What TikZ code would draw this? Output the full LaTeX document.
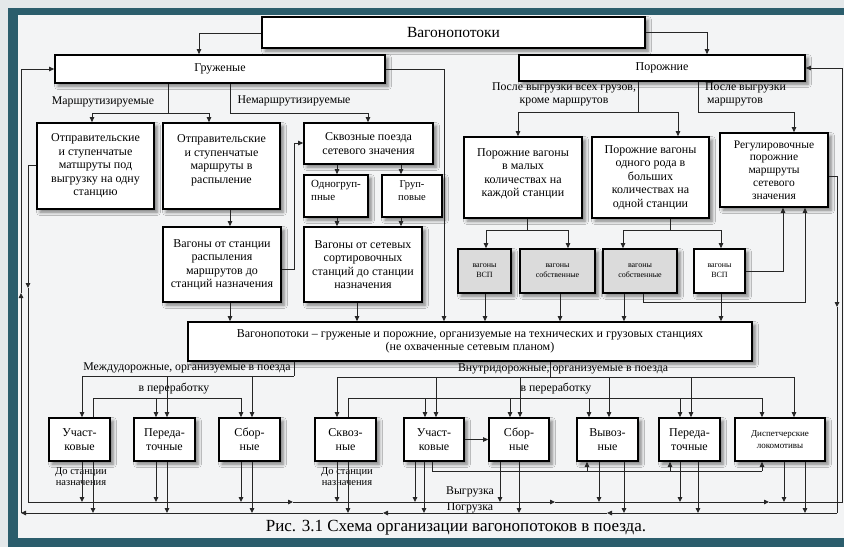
\documentclass[tikz,border=0pt]{standalone}
\usepackage{fontspec}
\setmainfont{Liberation Serif}
\usetikzlibrary{arrows.meta,shadows.blur}
\definecolor{tealb}{HTML}{2B5D6C}
\definecolor{outerbg}{HTML}{E4E8EA}
\definecolor{innerbg}{HTML}{F3F4F5}
\tikzset{
 box/.style={draw=black, line width=1.7pt, fill=white, inner sep=0pt, align=center,
   font=\fontsize{12}{13.5}\selectfont,
   blur shadow={shadow xshift=3pt, shadow yshift=-3pt, shadow blur radius=3.5pt, shadow opacity=50}},
 gbox/.style={box, fill=gray!28, font=\fontsize{8}{10}\selectfont},
 conn/.style={line width=0.85pt, draw=black!85},
 arr/.style={conn, -{Triangle[length=5pt,width=4.5pt]}},
 lbl/.style={inner sep=0pt, font=\fontsize{11.8}{13}\selectfont},
 small/.style={inner sep=0pt, align=center, font=\fontsize{10.5}{11}\selectfont},
}
\begin{document}
\begin{tikzpicture}[x=1pt,y=-1pt]
\useasboundingbox (0,0) rectangle (844,547);
% background
\fill[outerbg] (0,0) rectangle (844,547);
\fill[innerbg] (18,15) rectangle (844,538);
\fill[tealb] (8,8) rectangle (844,15);
\fill[tealb] (8,8) rectangle (18,547);
\fill[tealb] (8,538) rectangle (844,547);

% boxes
\node[box, minimum width=383pt, minimum height=31pt, font=\fontsize{15.5}{17}\selectfont] (top) at (453.5,32.5) {Вагонопотоки};
\node[box, minimum width=330pt, minimum height=28pt] (gruz) at (220,69) {Груженые};
\node[box, minimum width=286pt, minimum height=26pt] (poro) at (662,68) {Порожние};

\node[box, minimum width=117pt, minimum height=86pt] (A) at (95.5,166) {Отправительские\\и ступенчатые\\матшруты под\\выгрузку на одну\\станцию};
\node[box, minimum width=117pt, minimum height=86pt] (B) at (221.5,166) {Отправительские\\и ступенчатые\\маршруты в\\распыление\\\mbox{}};
\node[box, minimum width=129pt, minimum height=41pt] (C) at (368.5,143.5) {Сквозные поезда\\сетевого значения};
\node[box, minimum width=64pt, minimum height=42pt, align=left, font=\fontsize{11}{13}\selectfont] (Odn) at (336,196) {Одногруп-\\пные\\[-2pt]\mbox{}};
\node[box, minimum width=60pt, minimum height=42pt, font=\fontsize{10.5}{13}\selectfont] (Grp) at (412,196) {Груп-\\повые\\[-2pt]\mbox{}};
\node[box, minimum width=118pt, minimum height=75pt] (D) at (222,264.5) {Вагоны от станции\\распыления\\маршрутов до\\станций назначения};
\node[box, minimum width=118pt, minimum height=75pt] (E) at (363,264.5) {Вагоны от сетевых\\сортировочных\\станций до станции\\назначения};

\node[box, minimum width=118pt, minimum height=81pt] (F) at (523,177.5) {Порожние вагоны\\в малых\\количествах на\\каждой станции\\[-4pt]\mbox{}};
\node[box, minimum width=117pt, minimum height=81pt] (G) at (650.5,177.5) {Порожние вагоны\\одного рода в\\больших\\количествах на\\одной станции};
\node[box, minimum width=108pt, minimum height=74pt, font=\fontsize{11.5}{12.8}\selectfont] (H) at (774,170) {Регулировочные\\порожние\\маршруты\\сетевого\\значения};

\node[gbox, minimum width=53pt, minimum height=44pt] (I1) at (484.5,271) {вагоны\\ВСП};
\node[gbox, minimum width=75pt, minimum height=44pt] (I2) at (557.5,271) {вагоны\\собственные};
\node[gbox, minimum width=74pt, minimum height=44pt] (I3) at (640,271) {вагоны\\собственные};
\node[gbox, fill=white, minimum width=51pt, minimum height=44pt] (I4) at (719.5,271) {вагоны\\ВСП};

\node[box, minimum width=564pt, minimum height=39pt] (J) at (470,341.5) {Вагонопотоки – груженые и порожние, организуемые на технических и грузовых станциях\\(не охваченные сетевым планом)};

\node[box, minimum width=61pt, minimum height=43pt] (U1) at (79.5,439.5) {Участ-\\ковые};
\node[box, minimum width=61pt, minimum height=43pt] (P1) at (164.5,439.5) {Переда-\\точные};
\node[box, minimum width=61pt, minimum height=43pt] (S1) at (249.5,439.5) {Сбор-\\ные};
\node[box, minimum width=61pt, minimum height=43pt] (K) at (345.5,439.5) {Сквоз-\\ные};
\node[box, minimum width=60pt, minimum height=43pt] (U2) at (434,439.5) {Участ-\\ковые};
\node[box, minimum width=60pt, minimum height=43pt] (S2) at (519,439.5) {Сбор-\\ные};
\node[box, minimum width=61pt, minimum height=43pt] (V) at (607.5,439.5) {Вывоз-\\ные};
\node[box, minimum width=61pt, minimum height=43pt] (P2) at (689.5,439.5) {Переда-\\точные};
\node[box, minimum width=90pt, minimum height=43pt, font=\fontsize{9}{12}\selectfont] (Dsp) at (780,439.5) {Диспетчерские\\локомотивы};

% labels
\node[lbl] (lm) at (103,102) {Маршрутизируемые};
\node[lbl] (lnm) at (294,101) {Немаршрутизируемые};
\node[lbl] (lp1) at (564,88) {После выгрузки всех грузов,};
\node[lbl] (lp2) at (564,102) {кроме маршрутов};
\node[lbl, anchor=west] (lp3) at (705,88) {После выгрузки};
\node[lbl, anchor=west] (lp4) at (707,102) {маршрутов};
\node[lbl] (lmd) at (187,368) {Междудорожные, организуемые в поезда};
\node[lbl] (lvr1) at (174,389) {в переработку};
\node[lbl] (lvd) at (563,369) {Внутридорожные, организуемые в поезда};
\node[lbl] (lvr2) at (556,389) {в переработку};
\node[small] (ld1) at (81,477) {До станции\\назначения};
\node[small] (ld2) at (347,477) {До станции\\назначения};
\node[lbl] (lvy) at (470,492) {Выгрузка};
\node[lbl] (lpo) at (470,508) {Погрузка};
\node[inner sep=0pt, font=\fontsize{17}{20}\selectfont] (cap) at (456,528) {Рис. 3.1 Схема организации вагонопотоков в поезда.};

% top connectors
\draw[arr] (top.west |- 0,33) -- (199,33) -- (199,0 |- gruz.north);
\draw[arr] (top.east |- 0,32) -- (707,32) -- (707,0 |- poro.north);

% gruz children
\draw[conn] (168,0 |- gruz.south) -- (168,113);
\draw[conn] (92,113) -- (209,113);
\draw[arr] (92,113) -- (92,0 |- A.north);
\draw[arr] (209,113) -- (209,0 |- B.north);
\draw[arr] (230,0 |- gruz.south) -- (230,113) -- (368,113) -- (368,0 |- C.north);
\draw[arr] (gruz.east) -- (444,0 |- gruz.east) -- (444,0 |- J.north);

\draw[arr] (230,0 |- B.south) -- (230,0 |- D.north);
\draw[arr] (D.east |- 0,269) -- (294,269) -- (294,143) -- (C.west |- 0,143);
\draw[arr] (337,0 |- C.south) -- (337,0 |- Odn.north);
\draw[arr] (401,0 |- C.south) -- (401,0 |- Grp.north);
\draw[arr] (337,0 |- Odn.south) -- (337,0 |- E.north);
\draw[arr] (401,0 |- Grp.south) -- (401,0 |- E.north);
\draw[arr] (230,0 |- D.south) -- (230,0 |- J.north);
\draw[arr] (357,0 |- E.south) -- (357,0 |- J.north);

% poro children
\draw[conn] (638,0 |- poro.south) -- (638,112);
\draw[conn] (518,112) -- (678,112);
\draw[arr] (518,112) -- (518,0 |- F.north);
\draw[arr] (678,112) -- (678,0 |- G.north);
\draw[arr] (698,0 |- poro.south) -- (698,112) -- (794,112) -- (794,0 |- H.north);

\draw[conn] (527,0 |- F.south) -- (527,230);
\draw[conn] (486,230) -- (568,230);
\draw[arr] (486,230) -- (486,0 |- I1.north);
\draw[arr] (568,230) -- (568,0 |- I2.north);
\draw[conn] (670,0 |- G.south) -- (670,230);
\draw[conn] (623,230) -- (721,230);
\draw[arr] (623,230) -- (623,0 |- I3.north);
\draw[arr] (721,230) -- (721,0 |- I4.north);
\draw[arr] (I4.east |- 0,271) -- (783,271) -- (783,0 |- H.south);
\draw[arr] (643,0 |- I3.south) -- (643,302) -- (805,302) -- (805,0 |- H.south);
\draw[arr] (485,0 |- I1.south) -- (485,0 |- J.north);
\draw[arr] (560,0 |- I2.south) -- (560,0 |- J.north);
\draw[arr] (624,0 |- I3.south) -- (624,0 |- J.north);
\draw[arr] (721,0 |- I4.south) -- (721,0 |- J.north);

% J to bottom row
\draw[conn] (294,0 |- J.south) -- (294,376);
\draw[conn] (82,376) -- (294,376);
\draw[arr] (82,376) -- (82,0 |- U1.north);
\draw[arr] (167,376) -- (167,0 |- P1.north);
\draw[arr] (252,376) -- (252,0 |- S1.north);
\draw[conn] (93,0 |- U1.north) -- (93,398) -- (241,398);
\draw[arr] (156,398) -- (156,0 |- P1.north);
\draw[arr] (241,398) -- (241,0 |- S1.north);

\draw[conn] (550,0 |- J.south) -- (550,377);
\draw[conn] (337,377) -- (794,377);
\foreach \n/\x in {K/337, U2/436, S2/520, V/609, P2/691, Dsp/794}
  \draw[arr] (\x,377) -- (\x,0 |- \n.north);
\draw[conn] (348,0 |- K.north) -- (348,398) -- (762,398);
\foreach \n/\x in {U2/425, S2/510, V/589, P2/680, Dsp/762}
  \draw[arr] (\x,398) -- (\x,0 |- \n.north);

\draw[arr] (U2.east) -- (S2.west);
\draw[conn] (432,0 |- U2.south) -- (432,471) -- (762,471);
\draw[arr] (587,471) -- (587,0 |- V.south);
\draw[arr] (670,471) -- (670,0 |- P2.south);
\draw[arr] (762,471) -- (762,0 |- Dsp.south);

\foreach \n/\a/\b in {U1/82/93, P1/156/167, S1/241/252, K/337/348, U2/415/424, S2/500/519, V/599/624, P2/680/698, Dsp/784/805} {
  \draw[arr] (\a,0 |- \n.south) -- (\a,502);
  \draw[arr] (\b,0 |- \n.south) -- (\b,513);
}

% Vygruzka line (unloading) -> Porozhnie
\draw[conn] (A.west |- 0,165) -- (28,165);
\draw[arr] (28,165) -- (28,288);
\draw[conn] (28,288) -- (28,502);
\draw[arr] (28,502) -- (293,502);
\draw[arr] (293,502) -- (555,502);
\draw[arr] (555,502) -- (769,502);
\draw[conn] (769,502) -- (842,502) -- (842,68);
\draw[arr] (842,68) -- (poro.east |- 0,68);

% Pogruzka line (loading) -> Gruzhenye
\draw[conn] (H.east |- 0,176) -- (837,176);
\draw[arr] (837,176) -- (837,307);
\draw[conn] (837,307) -- (837,513);
\draw[arr] (837,513) -- (607,513);
\draw[arr] (607,513) -- (383,513);
\draw[arr] (383,513) -- (21,513);
\draw[arr] (21,513) -- (21,293);
\draw[conn] (21,293) -- (21,69);
\draw[arr] (21,69) -- (gruz.west);
\end{tikzpicture}
\end{document}
